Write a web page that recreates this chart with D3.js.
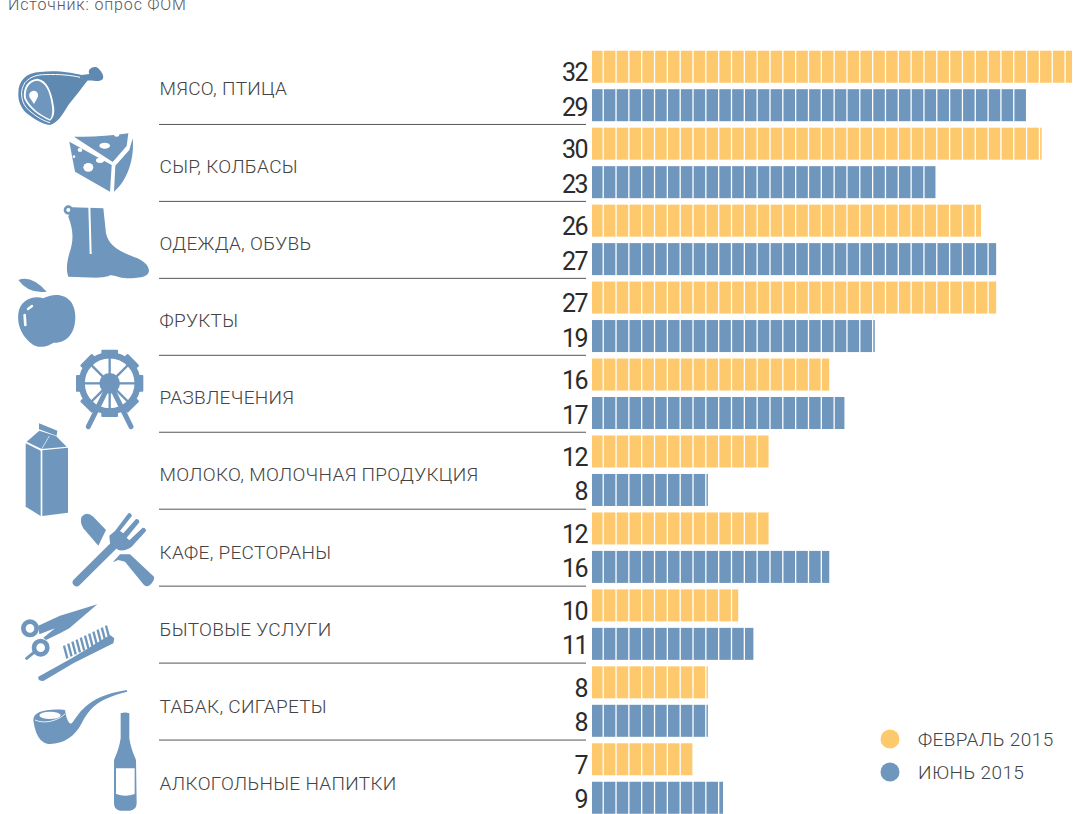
<!DOCTYPE html>
<html>
<head>
<meta charset="utf-8">
<script src="https://cdn.jsdelivr.net/npm/d3@7"></script>
<style>
  html, body { margin: 0; padding: 0; background: #fff; }
  svg { display: block; }
  text { font-family: Roboto, sans-serif; }
</style>
</head>
<body>
<div id="chart"></div>
<script>
const categories = ['МЯСО, ПТИЦА', 'СЫР, КОЛБАСЫ', 'ОДЕЖДА, ОБУВЬ', 'ФРУКТЫ', 'РАЗВЛЕЧЕНИЯ',
  'МОЛОКО, МОЛОЧНАЯ ПРОДУКЦИЯ', 'КАФЕ, РЕСТОРАНЫ', 'БЫТОВЫЕ УСЛУГИ', 'ТАБАК, СИГАРЕТЫ', 'АЛКОГОЛЬНЫЕ НАПИТКИ'];
const seriesNames = ['ФЕВРАЛЬ 2015', 'ИЮНЬ 2015'];
const february = [32, 30, 26, 27, 16, 12, 12, 10, 8, 7];
const june = [29, 23, 27, 19, 17, 8, 16, 11, 8, 9];
const sourceNote = 'Источник: опрос ФОМ';

const BLUE = '#6f96bd';
const YELLOW = '#fec96d';

const width = 1077;
const height = 814;
const barStart = 592;
const segmentPitch = 12.83;
const segmentGap = 1.3;

const svg = d3.select('#chart').append('svg')
  .attr('width', width)
  .attr('height', height)
  .attr('viewBox', `0 0 ${width} ${height}`);

// bars in the original start a little past the scale's zero
const x = d3.scaleLinear().domain([0, 32]).range([586.5, 1072]);
const rowStep = 76.95;
const y = d3.scaleBand().domain(categories).range([47.5, 47.5 + rowStep * categories.length]);
const yInner = d3.scaleBand().domain(seriesNames).range([0, rowStep])
  .paddingInner(0.168).paddingOuter(0.084);
const yLabel = d3.scalePoint().domain(categories).range([88.5, 783.5]);
const color = d3.scaleOrdinal().domain(seriesNames).range([YELLOW, BLUE]);

const rows = categories.map((c, i) => ({ category: c, values: [february[i], june[i]] }));

// source note, cut by the top of the picture
svg.append('text')
  .attr('x', 8).attr('y', 9.5)
  .attr('font-size', 16)
  .attr('font-weight', 300)
  .attr('letter-spacing', 0.85)
  .attr('fill', '#555')
  .text(sourceNote);

svg.selectAll('.category-label').data(rows).enter().append('text')
  .attr('class', 'category-label')
  .attr('x', 159.5)
  .attr('y', d => yLabel(d.category))
  .attr('dy', '0.36em')
  .attr('font-size', 19)
  .attr('font-weight', 300)
  .attr('letter-spacing', 0.3)
  .attr('fill', '#444')
  .text(d => d.category);

const row = svg.selectAll('.row').data(rows).enter().append('g')
  .attr('class', 'row')
  .attr('transform', d => `translate(0,${y(d.category)})`);

row.filter((d, i) => i < categories.length - 1).append('line')
  .attr('x1', 159).attr('x2', 586)
  .attr('y1', rowStep).attr('y2', rowStep)
  .attr('stroke', '#555').attr('stroke-width', 1);

seriesNames.forEach((name, s) => {
  const bar = row.append('g').attr('transform', `translate(0,${yInner(name)})`);

  // each bar is a strip of small cells, the last one cut at the bar's end
  bar.selectAll('rect')
    .data(d => {
      const end = x(d.values[s]);
      return d3.range(0, 40)
        .map(k => ({
          from: k === 0 ? barStart : 603.2 + segmentPitch * (k - 1) + segmentGap / 2,
          to: Math.min(end, 603.2 + segmentPitch * k - segmentGap / 2)
        }))
        .filter(c => c.to > c.from);
    })
    .enter().append('rect')
    .attr('x', c => c.from)
    .attr('width', c => c.to - c.from)
    .attr('y', 0)
    .attr('height', yInner.bandwidth())
    .attr('fill', color(name));

  // the February numbers sit lower against their bars than the June ones
  bar.append('text')
    .attr('x', 587)
    .attr('y', yInner.bandwidth() / 2 + (s === 0 ? 5.5 : 1.5))
    .attr('dy', '0.36em')
    .attr('text-anchor', 'end')
    .attr('font-size', 25)
    .attr('font-weight', 400)
    .attr('letter-spacing', -1.5)
    .attr('fill', '#2b2b2b')
    .text(d => d.values[s]);
});

// legend
const legend = svg.selectAll('.legend').data(seriesNames).enter().append('g')
  .attr('class', 'legend')
  .attr('transform', (d, i) => `translate(890,${739 + i * 33})`);
legend.append('circle').attr('r', 9.5).attr('fill', d => color(d));
legend.append('text')
  .attr('x', 28)
  .attr('dy', '0.36em')
  .attr('font-size', 19)
  .attr('font-weight', 300)
  .attr('letter-spacing', 0.4)
  .attr('fill', '#444')
  .text(d => d);

// icons, traced by hand at 3x from the picture
const icon = (dx, dy) => svg.append('g')
  .attr('transform', `translate(${dx},${dy}) scale(${1 / 3})`)
  .attr('fill', BLUE);

// ham
const ham = icon(0, 0);
ham.append('path').attr('fill', '#5f89b0')
  .attr('d', 'M55,280 C55,240 80,218 120,216 C170,210 215,218 245,225 L268,222 C260,205 285,195 295,205 C300,212 315,225 308,238 C298,248 280,240 262,242 C245,265 225,290 205,315 C190,340 175,368 150,375 C125,372 95,352 75,335 C60,318 54,300 55,280 Z');
ham.append('path').attr('fill', 'none').attr('stroke', '#fff').attr('stroke-width', 3)
  .attr('d', 'M150,368 C125,362 95,340 78,322 C62,300 60,270 75,248 C92,228 115,224 135,224 C180,222 215,226 240,232');
ham.append('path').attr('fill', '#fff')
  .attr('d', 'M150,362 C120,350 85,325 72,295 C68,265 82,238 112,236 C140,240 155,270 162,320 C165,340 160,355 150,362 Z');
ham.append('path').attr('fill', BLUE)
  .attr('d', 'M150,358 C122,346 90,322 78,295 C74,268 86,244 112,242 C136,246 150,272 156,320 C158,338 156,350 150,358 Z M102,272 C90,272 84,284 90,294 L102,312 L112,294 C118,284 112,272 102,272 Z')
  .attr('fill-rule', 'evenodd');

// cheese
const cheese = icon(0, 0);
cheese.append('path').attr('d', 'M222,410 C270,412 330,408 385,400 L380,438 L338,486 Z');
cheese.append('path').attr('d', 'M208,425 L335,495 L330,575 L225,515 Z');
cheese.append('path').attr('d', 'M346,497 L388,450 L398,415 C404,470 385,540 342,575 Z');
[[314, 437, 16, 9], [300, 481, 12, 8], [265, 502, 15, 13], [240, 450, 7, 6], [222, 470, 4, 4], [350, 405, 8, 5]]
  .forEach(h => cheese.append('ellipse').attr('cx', h[0]).attr('cy', h[1]).attr('rx', h[2]).attr('ry', h[3]).attr('fill', '#fff'));

// boot
const boot = icon(0, 0);
boot.append('circle').attr('cx', 205).attr('cy', 630).attr('r', 10).attr('fill', 'none').attr('stroke', BLUE).attr('stroke-width', 8);
boot.append('path').attr('d', 'M215,622 L310,625 L318,700 C325,730 345,750 400,770 C430,780 447,795 447,812 C445,828 430,834 380,835 C360,834 345,826 330,826 C320,832 300,833 290,833 L205,830 C198,810 200,790 208,760 C222,720 220,690 205,650 Z');
boot.append('line').attr('x1', 268).attr('x2', 272).attr('y1', 620).attr('y2', 762).attr('stroke', '#fff').attr('stroke-width', 6);

// apple
const apple = icon(0, 270);
apple.append('path').attr('d', 'M55,30 Q95,15 140,65 Q85,72 55,30 Z');
apple.append('path').attr('d', 'M130,85 C165,65 225,70 226,140 C226,190 200,220 160,218 C150,225 125,238 100,225 C70,205 50,170 55,130 C60,90 100,75 130,85 Z');
apple.append('line').attr('x1', 84).attr('y1', 117).attr('x2', 96).attr('y2', 108).attr('stroke', '#fff').attr('stroke-width', 7).attr('stroke-linecap', 'round');
apple.append('line').attr('x1', 74).attr('y1', 135).attr('x2', 76).attr('y2', 165).attr('stroke', '#fff').attr('stroke-width', 8).attr('stroke-linecap', 'round');

// ferris wheel
const wheel = icon(0, 270);
const wheelC = [329, 340];
wheel.append('circle').attr('cx', wheelC[0]).attr('cy', wheelC[1]).attr('r', 84).attr('fill', 'none').attr('stroke', BLUE).attr('stroke-width', 19);
wheel.append('circle').attr('cx', wheelC[0]).attr('cy', wheelC[1]).attr('r', 31);
d3.range(8).forEach(k => {
  const a = k * 45;
  wheel.append('rect').attr('x', -25).attr('y', -101).attr('width', 50).attr('height', 20).attr('rx', 3)
    .attr('transform', `translate(${wheelC[0]},${wheelC[1]}) rotate(${a})`);
  wheel.append('line').attr('x1', 0).attr('y1', 0).attr('x2', 0).attr('y2', -86)
    .attr('stroke', BLUE).attr('stroke-width', 7)
    .attr('transform', `translate(${wheelC[0]},${wheelC[1]}) rotate(${a})`);
});
[[265, 470], [393, 470]].forEach(p => wheel.append('line')
  .attr('x1', wheelC[0]).attr('y1', wheelC[1]).attr('x2', p[0]).attr('y2', p[1])
  .attr('stroke', BLUE).attr('stroke-width', 15).attr('stroke-linecap', 'round'));
wheel.append('path').attr('d', 'M318,417 L338,417 L344,431 L310,431 Z');

// milk carton
const milk = icon(0, 270);
milk.append('path').attr('d', 'M77,520 L122,542 L122,738 L77,710 Z');
milk.append('path').attr('d', 'M127,541 L204,533 L204,728 L127,738 Z');
milk.append('path').attr('d', 'M80,515 L118,482 L168,498 L200,530 L125,537 Z');
milk.append('path').attr('d', 'M117,460 L172,482 L170,497 L117,478 Z');
milk.append('path').attr('fill', 'none').attr('stroke', '#fff').attr('stroke-width', 2).attr('d', 'M125,537 L148,498');

// fork and knife
const cutlery = icon(60, 505);
cutlery.append('path').attr('d', 'M65,35 Q80,18 100,35 L138,75 L115,122 L70,70 Q58,50 65,35 Z');
cutlery.append('path').attr('d', 'M158,172 L180,148 L210,148 L282,215 Q285,225 270,240 Q258,248 250,238 L195,170 L175,165 Z');
cutlery.append('line').attr('x1', 50).attr('y1', 232).attr('x2', 165).attr('y2', 118).attr('stroke', BLUE).attr('stroke-width', 24).attr('stroke-linecap', 'round');
cutlery.append('path').attr('d', 'M148,92 L165,78 L205,25 Q212,22 216,32 L180,78 L190,85 L228,42 Q238,42 238,52 L200,98 L208,106 L248,68 Q258,68 258,78 L215,125 Q195,140 175,135 L150,115 Z');

// scissors and comb
const tools = icon(10, 595);
[[60, 100], [92, 158]].forEach(p => tools.append('circle')
  .attr('cx', p[0]).attr('cy', p[1]).attr('r', 20).attr('fill', 'none').attr('stroke', BLUE).attr('stroke-width', 14));
tools.append('path').attr('d', 'M85,92 L150,62 L262,28 L178,100 L150,115 L108,135 L100,128 L135,100 L88,118 Z');
tools.append('line').attr('x1', 50).attr('y1', 190).attr('x2', 72).attr('y2', 172).attr('stroke', BLUE).attr('stroke-width', 9).attr('stroke-linecap', 'round');
tools.append('path').attr('d', 'M85,245 L185,190 L300,120 L313,130 L310,145 L190,205 L100,258 Q82,258 85,245 Z');
d3.range(11).forEach(k => {
  const bx = 172 + k * 12.6;
  const by = 190 - k * 6;
  tools.append('line').attr('x1', bx).attr('y1', by).attr('x2', bx - 10).attr('y2', by - 38)
    .attr('stroke', BLUE).attr('stroke-width', 7);
});

// pipe
const pipe = icon(0, 540);
pipe.append('path').attr('d', 'M100,540 C100,515 140,505 195,510 C198,530 205,555 215,550 C235,530 250,470 380,450 L382,455 C300,475 270,500 245,550 C225,590 190,612 150,612 C120,612 105,580 100,540 Z');
pipe.append('ellipse').attr('cx', 150).attr('cy', 526).attr('rx', 32).attr('ry', 11).attr('fill', '#fff');
pipe.append('path').attr('fill', 'none').attr('stroke', '#fff').attr('stroke-width', 2.5).attr('d', 'M105,540 C130,552 170,545 195,522');

// bottle
const bottle = icon(0, 540);
bottle.append('path').attr('d', 'M362,520 Q375,515 388,520 L388,595 Q392,625 408,660 L410,790 Q410,810 390,812 L360,812 Q342,810 342,790 L342,660 Q358,625 362,595 Z');
bottle.append('path').attr('fill', '#fff').attr('d', 'M348,685 L404,685 L404,762 Q376,772 348,762 Z');
</script>
</body>
</html>
